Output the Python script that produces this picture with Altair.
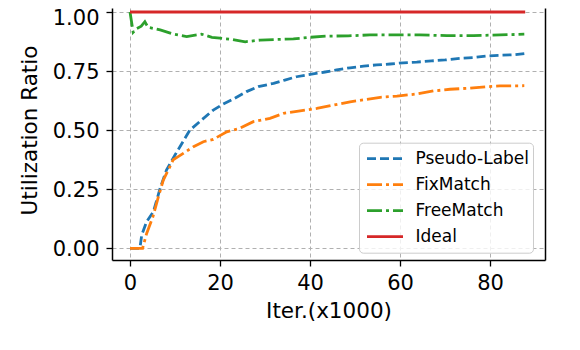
import altair as alt
import pandas as pd

series_names = ["Pseudo-Label", "FixMatch", "FreeMatch", "Ideal"]
series_colors = ["#1f77b4", "#ff7f0e", "#2ca02c", "#d62728"]
series_dashes = [[9, 4], [15, 4, 3, 4], [15, 4, 3, 4], [1, 0]]

pl_x = [0, 2.2, 2.6, 3.7, 5.2, 6.7, 8.1, 10.0, 13.3, 15.9, 18.5, 20.4, 23.3, 25.9, 28.5, 31.9,
        34.4, 37.0, 40.0, 43.0, 45.9, 48.9, 51.9, 54.8, 57.8, 60.7, 63.7, 67.0, 70.0, 73.3,
        76.3, 79.3, 82.2, 85.2, 87.6]
pl_y = [0.0, 0.0, 0.056, 0.113, 0.155, 0.254, 0.331, 0.395, 0.50, 0.543, 0.585, 0.607, 0.635, 0.663,
        0.684, 0.698, 0.712, 0.726, 0.736, 0.745, 0.755, 0.764, 0.771, 0.776, 0.78, 0.785, 0.788,
        0.793, 0.797, 0.804, 0.807, 0.814, 0.817, 0.819, 0.824]

fm_x = [0, 2.8, 3.7, 5.1, 6.3, 7.4, 8.5, 9.6, 10.7, 14.1, 16.3, 18.5, 21.5, 24.4, 27.4, 31.1,
        34.1, 37.8, 41.5, 45.2, 48.9, 51.9, 55.6, 59.3, 63.7, 67.4, 71.1, 74.8, 79.3, 82.2, 87.6]
fm_y = [0.0, 0.0, 0.063, 0.134, 0.218, 0.289, 0.331, 0.375, 0.388, 0.43, 0.451, 0.461, 0.493, 0.508,
        0.536, 0.55, 0.571, 0.582, 0.592, 0.606, 0.62, 0.628, 0.639, 0.644, 0.653, 0.666, 0.673,
        0.677, 0.684, 0.687, 0.688]

fr_x = [0, 0.7, 1.5, 2.5, 3.3, 4.0, 5.1, 6.7, 9.6, 12.6, 15.9, 18.2, 20.0, 22.6, 25.6, 28.9,
        32.6, 36.3, 40.0, 43.7, 48.5, 53.3, 57.8, 64.4, 70.4, 76.3, 82.2, 87.6]
fr_y = [1.0, 0.914, 0.93, 0.94, 0.959, 0.935, 0.931, 0.924, 0.907, 0.896, 0.906, 0.893, 0.889, 0.884,
        0.874, 0.881, 0.884, 0.886, 0.893, 0.898, 0.899, 0.903, 0.903, 0.903, 0.9, 0.9, 0.903, 0.906]

id_x = [0, 87.8]
id_y = [1.0, 1.0]

x_ticks = [0, 20, 40, 60, 80]
y_ticks = [0.0, 0.25, 0.5, 0.75, 1.0]

rows = []
for name, xs, ys in zip(series_names, [pl_x, fm_x, fr_x, id_x], [pl_y, fm_y, fr_y, id_y]):
    for xv, yv in zip(xs, ys):
        rows.append({"series": name, "x": xv, "y": yv})
df = pd.DataFrame(rows)

FONT = "DejaVu Sans"
x_scale = alt.Scale(domain=[-4.0, 92.2], nice=False, zero=False)
y_scale = alt.Scale(domain=[-0.0495, 1.0169], nice=False, zero=False)

x_enc = alt.X("x:Q", scale=x_scale,
              axis=alt.Axis(values=x_ticks, title="Iter.(x1000)", labelPadding=6,
                            titleBaseline="alphabetic", titleY=57, titleX=216.5, titleAlign="center"))
y_enc = alt.Y("y:Q", scale=y_scale,
              axis=alt.Axis(values=y_ticks, format=".2f", title="Utilization Ratio", labelPadding=7,
                            labelOffset={"condition": {"test": "datum.value >= 0.99", "value": 7},
                                         "value": 1.5},
                            titleAngle=270, titleBaseline="alphabetic", titleX=-76, titleY=122,
                            titleAlign="center"))

color_enc = alt.Color("series:N", scale=alt.Scale(domain=series_names, range=series_colors),
                      legend=alt.Legend(title=None, orient="none", legendX=247, legendY=134.7,
                                        symbolType="stroke", symbolSize=1296, symbolStrokeWidth=2.8,
                                        symbolOffset=3.5, clipHeight=25.7,
                                        labelFontSize=17, labelFont=FONT, labelColor="black",
                                        labelOffset=11, padding=3, cornerRadius=4,
                                        strokeColor="#cccccc", fillColor="rgba(255,255,255,0.8)",
                                        rowPadding=0))
dash_enc = alt.StrokeDash("series:N", scale=alt.Scale(domain=series_names, range=series_dashes),
                          legend=alt.Legend(title=None))

layers = []
for name in series_names:
    layers.append(
        alt.Chart(df).transform_filter(alt.datum.series == name)
        .mark_line(strokeWidth=2.8, clip=True)
        .encode(x=x_enc, y=y_enc, color=color_enc, strokeDash=dash_enc)
    )
lines = alt.layer(*layers)

right_spine = alt.Chart(df).mark_point(opacity=0).encode(
    x=x_enc,
    y=alt.Y("y:Q", scale=y_scale,
            axis=alt.Axis(orient="right", labels=False, ticks=False, grid=False,
                          title=None, domain=True, domainColor="black", domainWidth=1.5)),
)

chart = alt.layer(lines, right_spine).resolve_axis(y="independent").properties(
    width=433, height=252,
    autosize=alt.AutoSizeParams(type="none"),
    padding={"left": 104, "top": 0, "right": 20, "bottom": 62},
).configure_view(strokeOpacity=0).configure_axis(
    labelFont=FONT, labelFontSize=21, labelColor="black",
    titleFont=FONT, titleFontSize=21.5, titleFontWeight="normal", titleColor="black",
    tickColor="black", tickSize=6, tickWidth=1.3,
    domainColor="black", domainWidth=1.5,
    grid=True, gridColor="#b0b0b0", gridDash=[4, 3], gridWidth=1,
)

chart.save("out.html", embed_options={"renderer": "svg", "actions": False})
